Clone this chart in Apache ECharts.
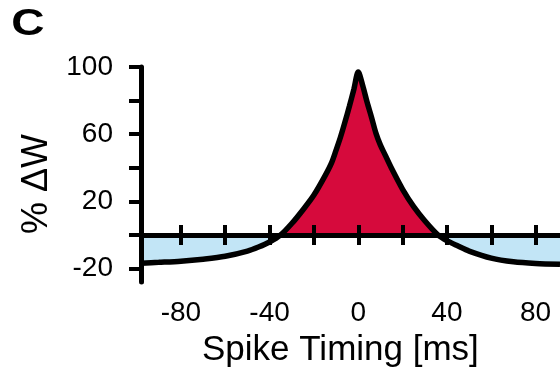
<!DOCTYPE html>
<html>
<head>
<meta charset="utf-8">
<script src="https://cdn.jsdelivr.net/npm/echarts@6/dist/echarts.min.js"></script>
<style>
  html, body { margin: 0; padding: 0; background: #fff; }
  #chart { width: 560px; height: 372px; }
</style>
</head>
<body>
<div id="chart"></div>
<script>
// spike timing (ms) and weight change (%)
const spikeTiming = [-98, -90, -80, -70, -60, -50, -45, -40, -35, -30, -25, -20, -15, -12, -10, -8, -6, -4, -2, 0,
  2, 4, 6, 8, 10, 12, 15, 20, 25, 30, 36, 40, 45, 50, 60, 70, 80, 91]
const weightChange = [-16.8, -16.3, -15.6, -14.4, -12.7, -9.6, -7.2, -4.2, 0, 6.8, 14.9, 23.8, 35.2, 43.1, 50.5, 58.3, 67.2, 76.6, 86.6, 97,
  89, 79, 70, 60.5, 53.5, 48, 39.7, 27.2, 16.9, 8.5, 0, -3.4, -6.6, -9.6, -13.8, -16, -17, -17.5]

const xTicks = [-80, -60, -40, -20, 0, 20, 40, 60, 80]
const xLabels = [-80, -40, 0, 40, 80]
const yTicks = [-20, 0, 20, 40, 60, 80, 100]
const yLabels = [-20, 20, 60, 100]

const curve = spikeTiming.map((t, i) => [t, weightChange[i]])
const potentiation = spikeTiming.map((t, i) => [t, Math.max(weightChange[i], 0)])
const depression = spikeTiming.map((t, i) => [t, Math.min(weightChange[i], 0)])

const font = 'Liberation Sans, Arial, Helvetica, sans-serif'
const xMin = -98
const xMax = 91

const chart = echarts.init(document.getElementById('chart'))

const option = {
  animation: false,
  title: {
    text: 'Spike Timing [ms]',
    left: 197,
    top: 328,
    textStyle: { fontFamily: font, fontSize: 35, fontWeight: 'normal', color: '#000' }
  },
  graphic: [
    {
      type: 'text',
      x: 28,
      y: 25,
      scaleX: 1.28,
      style: {
        text: 'C',
        font: 'bold 36px ' + font,
        fill: '#000',
        align: 'center',
        verticalAlign: 'middle'
      }
    },
    {
      type: 'text',
      x: 37,
      y: 184,
      rotation: Math.PI / 2,
      style: {
        text: '% ΔW',
        font: '36px ' + font,
        fill: '#000',
        align: 'center',
        verticalAlign: 'middle'
      }
    }
  ],
  grid: { left: 141, right: 0, top: 67, bottom: 90 },
  xAxis: [
    {
      type: 'value',
      min: xMin,
      max: xMax,
      z: 5,
      axisLine: { onZero: true, onZeroAxisIndex: 0, lineStyle: { color: '#000', width: 5 } },
      axisTick: { show: true, inside: false, length: 10, customValues: xTicks, lineStyle: { color: '#000', width: 4 } },
      axisLabel: { show: false },
      splitLine: { show: false }
    },
    {
      type: 'value',
      position: 'bottom',
      min: xMin,
      max: xMax,
      z: 5,
      axisLine: { show: false, onZero: true, onZeroAxisIndex: 0 },
      axisTick: { show: true, inside: true, length: 10, customValues: xTicks, lineStyle: { color: '#000', width: 4 } },
      axisLabel: { show: false },
      splitLine: { show: false }
    },
    {
      type: 'value',
      position: 'bottom',
      min: xMin,
      max: xMax,
      axisLine: { show: false, onZero: false },
      axisTick: { show: false },
      axisLabel: { customValues: xLabels, margin: 17, fontFamily: font, fontSize: 28, color: '#000' },
      splitLine: { show: false }
    }
  ],
  yAxis: {
    type: 'value',
    min: -28,
    max: 100,
    z: 5,
    axisLine: { onZero: false, lineStyle: { color: '#000', width: 5 } },
    axisTick: { show: true, inside: false, length: 12, customValues: yTicks, lineStyle: { color: '#000', width: 4 } },
    axisLabel: { customValues: yLabels, margin: 28, fontFamily: font, fontSize: 28, color: '#000' },
    splitLine: { show: false }
  },
  series: [
    {
      type: 'line',
      data: potentiation,
      symbol: 'none',
      smooth: 0.3,
      lineStyle: { width: 0 },
      areaStyle: { color: '#d60a3c', opacity: 1 },
      z: 2
    },
    {
      type: 'line',
      data: depression,
      symbol: 'none',
      smooth: 0.3,
      lineStyle: { width: 0 },
      areaStyle: { color: '#c2e5f6', opacity: 1 },
      z: 2
    },
    {
      type: 'line',
      data: curve,
      symbol: 'none',
      smooth: 0.3,
      lineStyle: { color: '#000', width: 5.5 },
      z: 6
    }
  ]
}

chart.setOption(option)
</script>
</body>
</html>
